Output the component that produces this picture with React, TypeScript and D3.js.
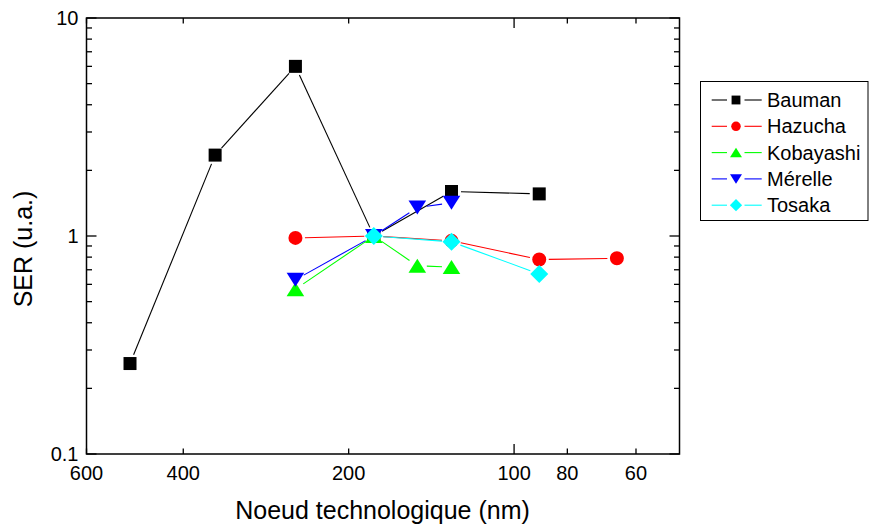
import React, { useEffect, useRef } from "react";
import * as d3 from "d3";

const seriesNames = ["Bauman", "Hazucha", "Kobayashi", "Mérelle", "Tosaka"];
const seriesColors = ["#000000", "#ff0000", "#00ff00", "#0000ff", "#00ffff"];
const seriesSymbols = ["square", "circle", "triangleUp", "triangleDown", "diamond"];

const baumanX = [500, 350, 250, 180, 130, 90];
const baumanY = [0.26, 2.35, 6.0, 1.0, 1.6, 1.56];
const hazuchaX = [250, 180, 130, 90, 65];
const hazuchaY = [0.98, 1.0, 0.95, 0.78, 0.79];
const kobayashiX = [250, 180, 150, 130];
const kobayashiY = [0.57, 1.0, 0.73, 0.72];
const merelleX = [250, 180, 150, 130];
const merelleY = [0.63, 1.0, 1.35, 1.42];
const tosakaX = [180, 130, 90];
const tosakaY = [1.0, 0.94, 0.67];

const xTickLabels = [600, 400, 200, 100, 80, 60];
const xMajorTicks = [100];
const yTickLabels = [0.1, 1, 10];

const W = 870;
const H = 526;
const L = 86.5, R = 679.5, T = 18, B = 454;

function symbolPath(kind: string, cx: number, cy: number, s: number): string {
  // s = scale factor (1 for plot, smaller for legend)
  if (kind === "square") {
    const h = 6.5 * s;
    return `M${cx - h},${cy - h}H${cx + h}V${cy + h}H${cx - h}Z`;
  }
  if (kind === "circle") {
    const r = 7 * s;
    return `M${cx - r},${cy}A${r},${r} 0 1,0 ${cx + r},${cy}A${r},${r} 0 1,0 ${cx - r},${cy}Z`;
  }
  if (kind === "triangleUp") {
    const w = 8.8 * s, h = 7 * s;
    return `M${cx},${cy - h}L${cx + w},${cy + h}L${cx - w},${cy + h}Z`;
  }
  if (kind === "triangleDown") {
    const w = 8.8 * s, h = 7 * s;
    return `M${cx},${cy + h}L${cx + w},${cy - h}L${cx - w},${cy - h}Z`;
  }
  const d = 9 * s;
  return `M${cx},${cy - d}L${cx + d},${cy}L${cx},${cy + d}L${cx - d},${cy}Z`;
}

export default function App() {
  const ref = useRef<SVGSVGElement | null>(null);

  useEffect(() => {
    const svg = d3.select(ref.current);
    svg.selectAll("*").remove();

    const x = d3.scaleLog().domain([600, 50]).range([L, R]);
    const y = d3.scaleLog().domain([0.1, 10]).range([B, T]);

    const xs = [baumanX, hazuchaX, kobayashiX, merelleX, tosakaX];
    const ys = [baumanY, hazuchaY, kobayashiY, merelleY, tosakaY];

    const font = "Liberation Sans, Arial, sans-serif";

    // frame
    svg.append("rect")
      .attr("x", L).attr("y", T).attr("width", R - L).attr("height", B - T)
      .attr("fill", "none").attr("stroke", "#000").attr("stroke-width", 1.5);

    // x ticks (bottom and top)
    xTickLabels.forEach((v) => {
      const len = xMajorTicks.includes(v) ? 10 : 5.5;
      const px = x(v);
      svg.append("line").attr("x1", px).attr("x2", px).attr("y1", B).attr("y2", B - len)
        .attr("stroke", "#000").attr("stroke-width", 1.3);
      svg.append("line").attr("x1", px).attr("x2", px).attr("y1", T).attr("y2", T + len)
        .attr("stroke", "#000").attr("stroke-width", 1.3);
      svg.append("text").attr("x", px).attr("y", B + 26)
        .attr("text-anchor", "middle").attr("font-family", font).attr("font-size", 20)
        .text(String(v));
    });

    // y ticks
    const yMinor: number[] = [];
    [0.1, 1].forEach((dec) => {
      for (let k = 2; k <= 9; k++) yMinor.push(dec * k);
    });
    yMinor.forEach((v) => {
      const py = y(v);
      svg.append("line").attr("x1", L).attr("x2", L + 5.5).attr("y1", py).attr("y2", py)
        .attr("stroke", "#000").attr("stroke-width", 1.3);
      svg.append("line").attr("x1", R).attr("x2", R - 5.5).attr("y1", py).attr("y2", py)
        .attr("stroke", "#000").attr("stroke-width", 1.3);
    });
    yTickLabels.forEach((v) => {
      const py = y(v);
      svg.append("line").attr("x1", L).attr("x2", L + 10).attr("y1", py).attr("y2", py)
        .attr("stroke", "#000").attr("stroke-width", 1.3);
      svg.append("line").attr("x1", R).attr("x2", R - 10).attr("y1", py).attr("y2", py)
        .attr("stroke", "#000").attr("stroke-width", 1.3);
      svg.append("text").attr("x", L - 8).attr("y", py + 7)
        .attr("text-anchor", "end").attr("font-family", font).attr("font-size", 20)
        .text(String(v));
    });

    // axis titles
    svg.append("text").attr("x", (L + R) / 2 - 0.5).attr("y", 519)
      .attr("text-anchor", "middle").attr("font-family", font).attr("font-size", 25)
      .text("Noeud technologique (nm)");
    svg.append("text")
      .attr("transform", `translate(32,249) rotate(-90)`)
      .attr("text-anchor", "middle").attr("font-family", font).attr("font-size", 25)
      .text("SER (u.a.)");

    // series
    const gap = 9.5;
    seriesNames.forEach((name, i) => {
      const g = svg.append("g");
      const pts = xs[i].map((xv, j) => [x(xv), y(ys[i][j])]);
      for (let j = 0; j < pts.length - 1; j++) {
        const [x1, y1] = pts[j];
        const [x2, y2] = pts[j + 1];
        const dx = x2 - x1, dy = y2 - y1;
        const len = Math.hypot(dx, dy);
        if (len <= 2 * gap) continue;
        const ux = dx / len, uy = dy / len;
        g.append("line")
          .attr("x1", x1 + ux * gap).attr("y1", y1 + uy * gap)
          .attr("x2", x2 - ux * gap).attr("y2", y2 - uy * gap)
          .attr("stroke", seriesColors[i]).attr("stroke-width", 1.1);
      }
      pts.forEach(([px, py]) => {
        g.append("path").attr("d", symbolPath(seriesSymbols[i], px, py, 1))
          .attr("fill", seriesColors[i]);
      });
    });

    // legend
    const lg = svg.append("g");
    lg.append("rect").attr("x", 700.5).attr("y", 81.5).attr("width", 167.5).attr("height", 139)
      .attr("fill", "#fff").attr("stroke", "#000").attr("stroke-width", 1);
    seriesNames.forEach((name, i) => {
      const cy = 100 + i * 26.3;
      lg.append("line").attr("x1", 711.7).attr("x2", 727).attr("y1", cy).attr("y2", cy)
        .attr("stroke", seriesColors[i]).attr("stroke-width", 1.1);
      lg.append("line").attr("x1", 744.5).attr("x2", 761.7).attr("y1", cy).attr("y2", cy)
        .attr("stroke", seriesColors[i]).attr("stroke-width", 1.1);
      lg.append("path").attr("d", symbolPath(seriesSymbols[i], 736, cy, 0.68))
        .attr("fill", seriesColors[i]);
      lg.append("text").attr("x", 767).attr("y", cy + 7)
        .attr("font-family", font).attr("font-size", 20).text(name);
    });
  }, []);

  return (
    <svg
      ref={ref}
      width={W}
      height={H}
      style={{ position: "absolute", left: 0, top: 0, background: "#fff" }}
    />
  );
}
